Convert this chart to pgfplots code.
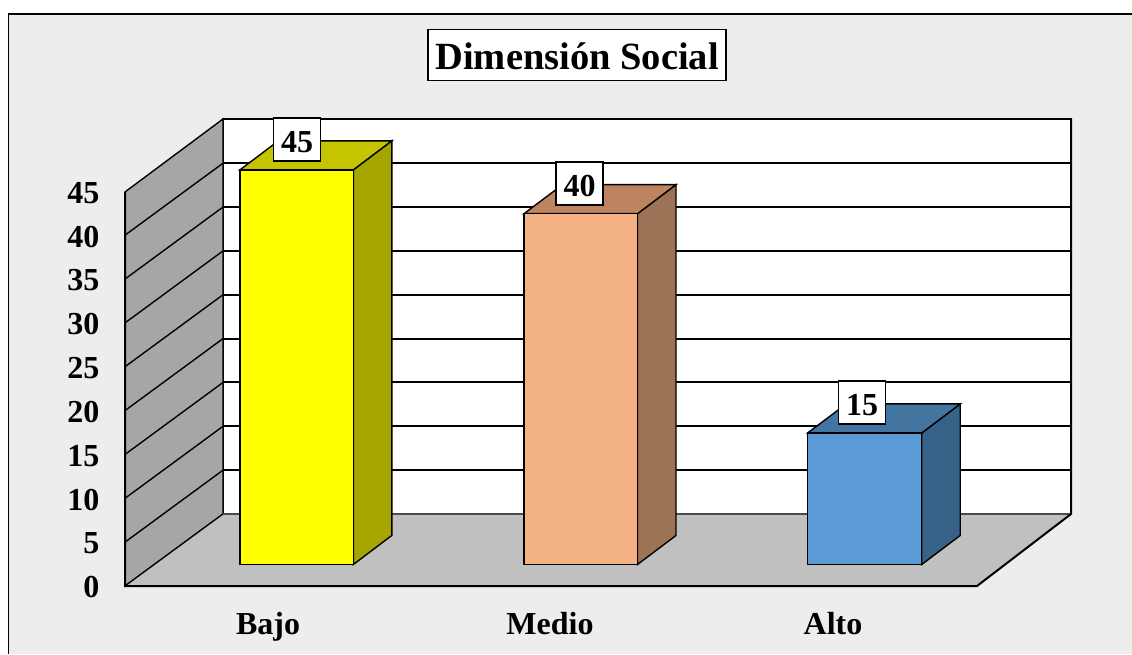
\documentclass[border=0pt]{standalone}
\usepackage{fontspec}
\setmainfont{Liberation Serif}
\usepackage{pgfplots}
\pgfplotsset{compat=1.18}

\definecolor{fondo}{HTML}{EDEDED}
\definecolor{pared}{HTML}{A6A6A6}
\definecolor{piso}{HTML}{C0C0C0}
\definecolor{amaA}{HTML}{FFFF00}
\definecolor{amaB}{HTML}{C4C400}
\definecolor{amaC}{HTML}{A6A600}
\definecolor{narA}{HTML}{F4B183}
\definecolor{narB}{HTML}{BC8560}
\definecolor{narC}{HTML}{9C7355}
\definecolor{azuA}{HTML}{5B9BD5}
\definecolor{azuB}{HTML}{4475A0}
\definecolor{azuC}{HTML}{376287}

\pgfplotsset{
  comun/.style={
    scale only axis, width=946pt, xmin=125, xmax=1071,
    ymin=0, clip=false, enlargelimits=false,
    axis line style={draw=none}, tick style={draw=none},
    /pgf/number format/assume math mode=true,
  },
  cara/.style={draw=black, line width=1.4pt, line join=miter, mark=none},
  valor/.style={
    mark=none, draw=none, forget plot,
    nodes near coords,
    every node near coord/.append style={
      draw=black, line width=1.8pt, fill=white, inner sep=0pt,
      text height=26pt, text depth=0pt,
      minimum width=47pt, minimum height=43pt, anchor=south, yshift=8pt,
      font=\fontsize{32}{32}\selectfont\bfseries},
  },
}

\begin{document}
\begin{tikzpicture}[x=1pt,y=1pt]
\path[use as bounding box] (0,0) rectangle (1132,654);
\fill[white] (0,0) rectangle (1132,654);
\fill[fondo] (8.5,0) rectangle (1132,640);
\draw[black, line width=1.6pt] (8.5,0) -- (8.5,640) -- (1132,640);

% paredes, piso y rejilla (0 en y=586 de la imagen)
\begin{axis}[comun, at={(125pt,68pt)}, height=467pt, ymax=53.25,
  ytick={0,5,10,15,20,25,30,35,40,45},
  xtick={268,550,833}, xticklabels={Bajo,Medio,Alto},
  yticklabel style={font=\fontsize{32}{32}\selectfont\bfseries, xshift=-22pt, yshift=-1.5pt},
  xticklabel style={font=\fontsize{32}{32}\selectfont\bfseries, yshift=-22.5pt},
  title={Dimensión Social},
  title style={at={(0.478,1.124)}, anchor=center, draw=black, line width=1.8pt,
    fill=white, inner sep=0pt, minimum width=298pt, minimum height=51pt,
    text height=29pt, text depth=0pt,
    font=\fontsize{38.5}{38.5}\selectfont\bfseries},
]
\addplot[fill=white, draw=black, line width=2pt] coordinates {(223,8.21) (223,53.25) (1071,53.25) (1071,8.21)} -- cycle;
\addplot[fill=pared, draw=black, line width=1.4pt] coordinates {(125,0) (125,44.93) (223,53.25) (223,8.21)} -- cycle;
\addplot[fill=piso, draw=none] coordinates {(125,0) (223,8.21) (1071,8.21) (977,0)} -- cycle;
\addplot[black, line width=1.2pt] coordinates {(125,0) (223,8.21)};
\addplot[black!70, line width=1.4pt] coordinates {(223,8.21) (1071,8.21)};
\addplot[black, line width=2pt] coordinates {(125,44.93) (125,0) (977,0) (1071,8.21) (1071,53.25)};
% rejilla cada 5
\addplot[black, line width=1.4pt] coordinates {(125,5) (223,13.21)};
\addplot[black, line width=1.9pt] coordinates {(223,13.21) (1071,13.21)};
\addplot[black, line width=1.4pt] coordinates {(125,10) (223,18.21)};
\addplot[black, line width=1.9pt] coordinates {(223,18.21) (1071,18.21)};
\addplot[black, line width=1.4pt] coordinates {(125,15) (223,23.21)};
\addplot[black, line width=1.9pt] coordinates {(223,23.21) (1071,23.21)};
\addplot[black, line width=1.4pt] coordinates {(125,20) (223,28.21)};
\addplot[black, line width=1.9pt] coordinates {(223,28.21) (1071,28.21)};
\addplot[black, line width=1.4pt] coordinates {(125,25) (223,33.21)};
\addplot[black, line width=1.9pt] coordinates {(223,33.21) (1071,33.21)};
\addplot[black, line width=1.4pt] coordinates {(125,30) (223,38.21)};
\addplot[black, line width=1.9pt] coordinates {(223,38.21) (1071,38.21)};
\addplot[black, line width=1.4pt] coordinates {(125,35) (223,43.21)};
\addplot[black, line width=1.9pt] coordinates {(223,43.21) (1071,43.21)};
\addplot[black, line width=1.4pt] coordinates {(125,40) (223,48.21)};
\addplot[black, line width=1.9pt] coordinates {(223,48.21) (1071,48.21)};
\end{axis}

% barras (0 en y=564 de la imagen)
\begin{axis}[comun, at={(125pt,89.5pt)}, height=445pt, ymax=50.74,
  xtick=\empty, ytick=\empty]
\addplot[cara, fill=amaC] coordinates {(353.3,0) (391.8,3.31) (391.8,48.31) (353.3,45)} -- cycle;
\addplot[cara, fill=amaB] coordinates {(240,45) (278.5,48.31) (391.8,48.31) (353.3,45)} -- cycle;
\addplot[ybar, bar width=113.3pt, bar shift=0pt, cara, fill=amaA] coordinates {(296.65,45)};

\addplot[cara, fill=narC] coordinates {(637.5,0) (676,3.31) (676,43.31) (637.5,40)} -- cycle;
\addplot[cara, fill=narB] coordinates {(524,40) (562.5,43.31) (676,43.31) (637.5,40)} -- cycle;
\addplot[ybar, bar width=113.5pt, bar shift=0pt, cara, fill=narA] coordinates {(580.75,40)};

\addplot[cara, fill=azuC] coordinates {(921.7,0) (960.2,3.31) (960.2,18.31) (921.7,15)} -- cycle;
\addplot[cara, fill=azuB] coordinates {(807.7,15) (846.2,18.31) (960.2,18.31) (921.7,15)} -- cycle;
\addplot[ybar, bar width=114pt, bar shift=0pt, cara, fill=azuA] coordinates {(864.7,15)};

\addplot[valor] coordinates {(297,45) (579.5,40) (862,15)};
\end{axis}
\end{tikzpicture}
\end{document}
